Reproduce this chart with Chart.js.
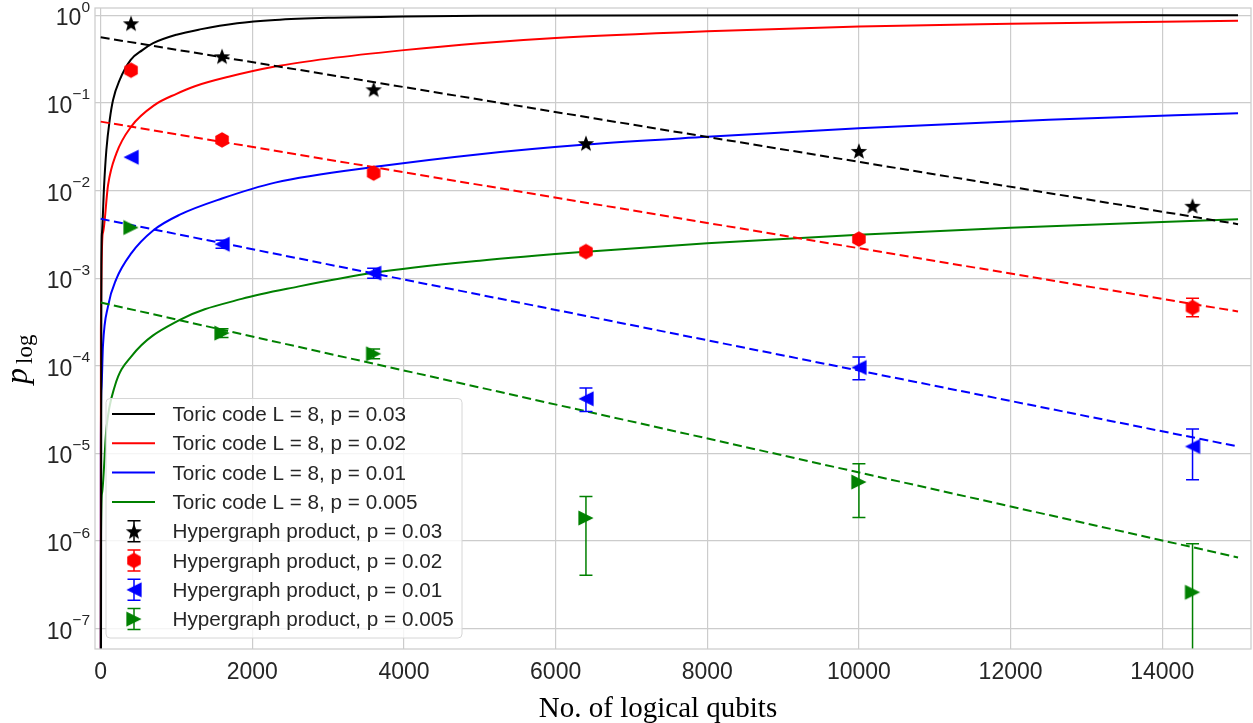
<!DOCTYPE html>
<html>
<head>
  <meta charset="UTF-8">
  <title>Toric code vs hypergraph product</title>
  <style>
    html, body { margin: 0; padding: 0; background: #fff; }
    #chart { display: block; }
  </style>
</head>
<body>
  <canvas id="chart" width="1253" height="723"></canvas>

  <script src="https://cdn.jsdelivr.net/npm/chart.js"></script>
  <script>
    // ---- data ----
    const xTicks = [0, 2000, 4000, 6000, 8000, 10000, 12000, 14000];
    const yTicks = [1, 1e-1, 1e-2, 1e-3, 1e-4, 1e-5, 1e-6, 1e-7];
    const yTickExp = ['0', '\u22121', '\u22122', '\u22123', '\u22124', '\u22125', '\u22126', '\u22127'];

    // toric code L = 8 curves (N logical qubits, p_log); 1e-12 = off the bottom of the axis
    const toric003N = [0, 9, 17, 44, 75, 119, 163, 251, 396, 550, 692, 1000, 1310, 1800, 2300, 3000, 4000, 5000, 6600, 9000, 15000];
    const toric003P = [1e-12, 1.4e-3, 3.3e-3, 0.011, 0.029, 0.064, 0.108, 0.183, 0.31, 0.40, 0.48, 0.60, 0.69, 0.81, 0.883, 0.935, 0.967, 0.985, 0.995, 1.0, 1.0];
    const toric002N = [0, 3, 30, 97, 207, 405, 714, 1000, 1242, 1700, 2300, 3000, 4000, 5000, 6000, 8000, 10000, 12000, 15000];
    const toric002P = [1e-12, 2.6e-4, 3.3e-3, 0.0115, 0.0265, 0.054, 0.095, 0.127, 0.155, 0.20, 0.26, 0.32, 0.40, 0.48, 0.55, 0.655, 0.745, 0.80, 0.868];
    const toric001N = [0, 2, 10, 30, 97, 207, 405, 692, 1044, 1600, 2300, 3700, 5000, 6400, 8000, 10000, 12500, 15000];
    const toric001P = [1e-12, 1.1e-5, 5.5e-5, 1.7e-4, 4.8e-4, 9.8e-4, 1.93e-3, 3.5e-3, 5.3e-3, 8.1e-3, 0.0123, 0.0190, 0.026, 0.0335, 0.041, 0.0514, 0.064, 0.0762];
    const toric0005N = [0, 2, 17, 75, 185, 405, 1044, 1860, 2600, 3600, 5000, 6400, 8000, 10000, 12000, 15000];
    const toric0005P = [1e-12, 6e-7, 3.5e-6, 1.9e-5, 5.8e-5, 1.28e-4, 3.34e-4, 5.8e-4, 8.0e-4, 1.15e-3, 1.58e-3, 2.0e-3, 2.5e-3, 3.12e-3, 3.75e-3, 4.71e-3];

    // hypergraph product points and error bars (null = bar hidden behind marker)
    const hgN = [400, 1600, 3600, 6400, 10000, 14400];
    const hg003 = [0.81, 0.34, 0.143, 0.0347, 0.0283, 0.0067];
    const hg002 = [0.236, 0.0378, 0.0158, 0.00201, 0.00279, 4.62e-4];
    const hg002Lo = [null, null, null, null, null, 3.62e-4];
    const hg002Hi = [null, null, null, null, null, 5.9e-4];
    const hg001 = [0.024, 0.00244, 0.00114, 4.2e-5, 9.55e-5, 1.2e-5];
    const hg001Lo = [null, 2.2e-3, 1.0e-3, 3.01e-5, 6.92e-5, 5.0e-6];
    const hg001Hi = [null, 2.7e-3, 1.3e-3, 5.56e-5, 1.26e-4, 1.9e-5];
    const hg0005 = [3.78e-3, 2.36e-4, 1.37e-4, 1.83e-6, 4.71e-6, 2.6e-7];
    const hg0005Lo = [null, 2.1e-4, 1.2e-4, 4.06e-7, 1.86e-6, 1e-9];
    const hg0005Hi = [null, 2.65e-4, 1.55e-4, 3.23e-6, 7.62e-6, 9.3e-7];

    // exponential fits (dashed), end points
    const fitN = [0, 15000];
    const fit003 = [0.561, 4.13e-3];
    const fit002 = [0.0611, 4.16e-4];
    const fit001 = [4.75e-3, 1.2e-5];
    const fit0005 = [5.27e-4, 6.5e-7];

    const BLACK = '#000000', RED = '#ff0000', BLUE = '#0000ff', GREEN = '#008000';
    const TXT = '#262626';
    const SANS = '"Liberation Sans", Arial, sans-serif';
    const SERIF = '"Liberation Serif", "Times New Roman", serif';

    const pts = (xs, ys) => xs.map((x, i) => ({ x, y: ys[i] }));

    // marker images
    function marker(color, path) {
      const cv = document.createElement('canvas');
      cv.width = 22; cv.height = 22;
      const c = cv.getContext('2d');
      c.fillStyle = color;
      c.translate(11, 11);
      c.beginPath(); path(c); c.closePath(); c.fill();
      return cv;
    }
    const star = marker(BLACK, c => {
      for (let k = 0; k < 10; k++) {
        const a = -Math.PI / 2 + k * Math.PI / 5, r = k % 2 ? 8.6 * 0.42 : 8.6;
        c.lineTo(r * Math.cos(a), r * Math.sin(a) + 0.8);
      }
    });
    const hexagon = marker(RED, c => {
      for (let k = 0; k < 6; k++) {
        const a = -Math.PI / 2 + k * Math.PI / 3;
        c.lineTo(7.8 * Math.cos(a), 7.8 * Math.sin(a));
      }
    });
    const triLeft = marker(BLUE, c => { c.moveTo(-7.6, 0); c.lineTo(7.6, -7.6); c.lineTo(7.6, 7.6); });
    const triRight = marker(GREEN, c => { c.moveTo(7.6, 0); c.lineTo(-7.6, -7.6); c.lineTo(-7.6, 7.6); });

    const curve = (label, xs, ys, color) => ({
      label, data: pts(xs, ys), borderColor: color, backgroundColor: color,
      borderWidth: 2, pointRadius: 0, showLine: true, cubicInterpolationMode: 'monotone', order: 3
    });
    const fit = (ys, color) => ({
      label: '', data: pts(fitN, ys), borderColor: color, backgroundColor: color,
      borderWidth: 2, borderDash: [9, 4.5], pointRadius: 0, showLine: true, order: 2
    });
    const hg = (label, ys, lo, hi, color, img) => ({
      label, data: pts(hgN, ys), borderColor: color, backgroundColor: color,
      pointStyle: img, pointRadius: 8, showLine: false, order: 1, errLo: lo, errHi: hi
    });

    const datasets = [
      curve('Toric code L = 8, p = 0.03', toric003N, toric003P, BLACK),
      curve('Toric code L = 8, p = 0.02', toric002N, toric002P, RED),
      curve('Toric code L = 8, p = 0.01', toric001N, toric001P, BLUE),
      curve('Toric code L = 8, p = 0.005', toric0005N, toric0005P, GREEN),
      hg('Hypergraph product, p = 0.03', hg003, null, null, BLACK, star),
      hg('Hypergraph product, p = 0.02', hg002, hg002Lo, hg002Hi, RED, hexagon),
      hg('Hypergraph product, p = 0.01', hg001, hg001Lo, hg001Hi, BLUE, triLeft),
      hg('Hypergraph product, p = 0.005', hg0005, hg0005Lo, hg0005Hi, GREEN, triRight),
      fit(fit003, BLACK), fit(fit002, RED), fit(fit001, BLUE), fit(fit0005, GREEN)
    ];

    function bar(ctx, px, y1, y2, cap) {
      ctx.beginPath();
      ctx.moveTo(px, y1); ctx.lineTo(px, y2);
      ctx.moveTo(px - cap, y1); ctx.lineTo(px + cap, y1);
      ctx.moveTo(px - cap, y2); ctx.lineTo(px + cap, y2);
      ctx.stroke();
    }

    // error bars drawn just before their markers
    const errorBars = {
      id: 'errorBars',
      beforeDatasetDraw(chart, args) {
        const ds = chart.data.datasets[args.index];
        if (!ds.errLo) return;
        const { ctx, chartArea: a } = chart;
        const xs = chart.scales.x, ys = chart.scales.y;
        ctx.save();
        ctx.beginPath(); ctx.rect(a.left, a.top, a.right - a.left, a.bottom - a.top); ctx.clip();
        ctx.strokeStyle = ds.borderColor; ctx.lineWidth = 1.5;
        ds.data.forEach((d, i) => {
          if (ds.errLo[i] == null) return;
          bar(ctx, xs.getPixelForValue(d.x), ys.getPixelForValue(ds.errHi[i]), ys.getPixelForValue(ds.errLo[i]), 6.5);
        });
        ctx.restore();
      }
    };

    // frame, tick labels, axis titles and legend
    const decor = {
      id: 'decor',
      afterDatasetsDraw(chart) {
        const { ctx, chartArea: a } = chart;
        ctx.save();
        ctx.strokeStyle = '#cccccc'; ctx.lineWidth = 1.25;
        ctx.strokeRect(a.left, a.top, a.right - a.left, a.bottom - a.top);
        ctx.restore();
      },
      afterDraw(chart) {
        const { ctx, chartArea: a } = chart;
        const xs = chart.scales.x, ys = chart.scales.y;
        ctx.save();
        ctx.fillStyle = TXT;

        // x tick labels
        ctx.font = '23px ' + SANS;
        ctx.textAlign = 'center'; ctx.textBaseline = 'alphabetic';
        xTicks.forEach(v => ctx.fillText(String(v), xs.getPixelForValue(v), a.bottom + 30));

        // y tick labels 10^n
        ctx.textAlign = 'left';
        yTicks.forEach((v, i) => {
          const py = ys.getPixelForValue(v);
          ctx.font = '15.5px ' + SANS;
          const we = ctx.measureText(yTickExp[i]).width;
          ctx.font = '23px ' + SANS;
          const wb = ctx.measureText('10').width;
          const right = a.left - 5;
          ctx.fillText('10', right - we - wb, py + 10);
          ctx.font = '15.5px ' + SANS;
          ctx.fillText(yTickExp[i], right - we, py - 3.5);
        });

        // x title
        ctx.font = '29px ' + SERIF;
        ctx.textAlign = 'center';
        ctx.fillStyle = '#000';
        ctx.fillText('No. of logical qubits', 658, 717);

        // y title p_log
        ctx.save();
        ctx.translate(27, 384);
        ctx.rotate(-Math.PI / 2);
        ctx.textAlign = 'left';
        ctx.font = 'italic 32px ' + SERIF;
        ctx.fillText('p', 0, 0);
        const wp = ctx.measureText('p').width;
        ctx.font = '23px ' + SERIF;
        ctx.fillText('log', wp + 4, 5);
        ctx.restore();

        // legend
        const entries = chart.data.datasets.filter(d => d.label);
        const bx = 106, by = 398.5, bw = 356, bh = 239.5;
        ctx.fillStyle = 'rgba(255,255,255,0.8)';
        ctx.strokeStyle = '#d6d6d6'; ctx.lineWidth = 1;
        ctx.beginPath();
        ctx.roundRect(bx, by, bw, bh, 4);
        ctx.fill(); ctx.stroke();
        entries.forEach((d, i) => {
          const cy = 414 + i * 29.3;
          if (d.showLine) {
            ctx.strokeStyle = d.borderColor; ctx.lineWidth = 2;
            ctx.beginPath(); ctx.moveTo(112, cy); ctx.lineTo(155, cy); ctx.stroke();
          } else {
            ctx.strokeStyle = d.borderColor; ctx.lineWidth = 1.5;
            bar(ctx, 134, cy - 10.5, cy + 10.5, 6.5);
            ctx.drawImage(d.pointStyle, 134 - 11, cy - 11);
          }
          ctx.fillStyle = TXT;
          ctx.font = '20.7px ' + SANS;
          ctx.textAlign = 'left';
          ctx.fillText(d.label, 172.5, cy + 7);
        });
        ctx.restore();
      }
    };

    new Chart(document.getElementById('chart').getContext('2d'), {
      type: 'scatter',
      data: { datasets },
      options: {
        responsive: false,
        animation: false,
        layout: { autoPadding: false, padding: { top: 8, right: 2, left: 0, bottom: 0 } },
        plugins: { legend: { display: false }, tooltip: { enabled: false } },
        scales: {
          x: {
            type: 'linear', min: -75, max: 15171,
            afterBuildTicks: s => { s.ticks = xTicks.map(v => ({ value: v })); },
            afterFit: s => { s.height = 74; },
            ticks: { display: false },
            grid: { color: '#cccccc', lineWidth: 1.2, drawTicks: false },
            border: { display: false }
          },
          y: {
            type: 'logarithmic', min: 5.86e-8, max: 1.21,
            afterBuildTicks: s => { s.ticks = yTicks.map(v => ({ value: v })); },
            afterFit: s => { s.width = 95; },
            ticks: { display: false },
            grid: { color: '#cccccc', lineWidth: 1.2, drawTicks: false },
            border: { display: false }
          }
        }
      },
      plugins: [errorBars, decor]
    });
  </script>
</body>
</html>
